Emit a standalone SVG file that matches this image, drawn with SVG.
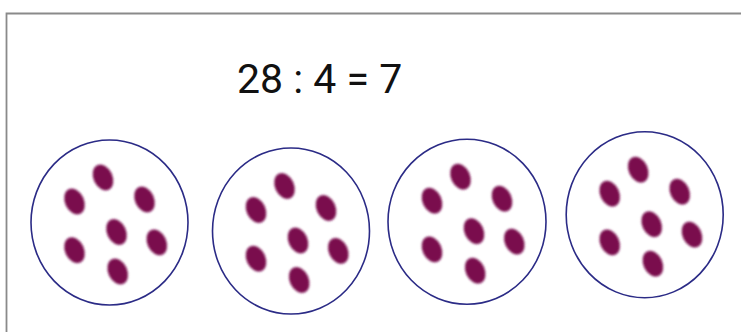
<svg xmlns="http://www.w3.org/2000/svg" xmlns:xlink="http://www.w3.org/1999/xlink" width="741" height="332" viewBox="0 0 741 332">
  <style>
    .plate { fill: #ffffff; stroke: #2b2b86; stroke-width: 1.6; }
    .dot { fill: #7a0c4d; filter: url(#soft); }
    .title { font-family: Roboto, "Liberation Sans", sans-serif; font-size: 41px; fill: #111111; }
  </style>
  <defs>
    <filter id="soft" x="-50%" y="-50%" width="200%" height="200%">
      <feGaussianBlur stdDeviation="1.3"/>
    </filter>
    <g id="seven">
      <ellipse class="dot" rx="9.5" ry="13.5" transform="translate(-6.5,-45) rotate(-25)"/>
      <ellipse class="dot" rx="9.5" ry="13.5" transform="translate(-35,-21) rotate(-25)"/>
      <ellipse class="dot" rx="9.5" ry="13.5" transform="translate(35,-23) rotate(-25)"/>
      <ellipse class="dot" rx="9.5" ry="13.5" transform="translate(7,9.5) rotate(-25)"/>
      <ellipse class="dot" rx="9.5" ry="13.5" transform="translate(-35,27.7) rotate(-25)"/>
      <ellipse class="dot" rx="9.5" ry="13.5" transform="translate(47.3,19.9) rotate(-25)"/>
      <ellipse class="dot" rx="9.5" ry="13.5" transform="translate(8.2,49) rotate(-25)"/>
    </g>
  </defs>
  <rect x="0" y="0" width="741" height="332" fill="#ffffff"/>
  <path d="M6.5,332 V13.5 H741" fill="none" stroke="#8a8a8a" stroke-width="1.8"/>
  <g id="equation">
    <text class="title" x="237" y="93">28 : 4 = 7</text>
  </g>
  <g id="plate1" transform="translate(109.5,222.5)">
    <ellipse class="plate" rx="78.5" ry="82.5"/>
    <use href="#seven" xlink:href="#seven"/>
  </g>
  <g id="plate2" transform="translate(291,231)">
    <ellipse class="plate" rx="78.5" ry="83"/>
    <use href="#seven" xlink:href="#seven"/>
  </g>
  <g id="plate3" transform="translate(467,221.7)">
    <ellipse class="plate" rx="79" ry="82.5"/>
    <use href="#seven" xlink:href="#seven"/>
  </g>
  <g id="plate4" transform="translate(644.7,214.7)">
    <ellipse class="plate" rx="78.5" ry="83"/>
    <use href="#seven" xlink:href="#seven"/>
  </g>
  <g id="connectors"/>
</svg>
